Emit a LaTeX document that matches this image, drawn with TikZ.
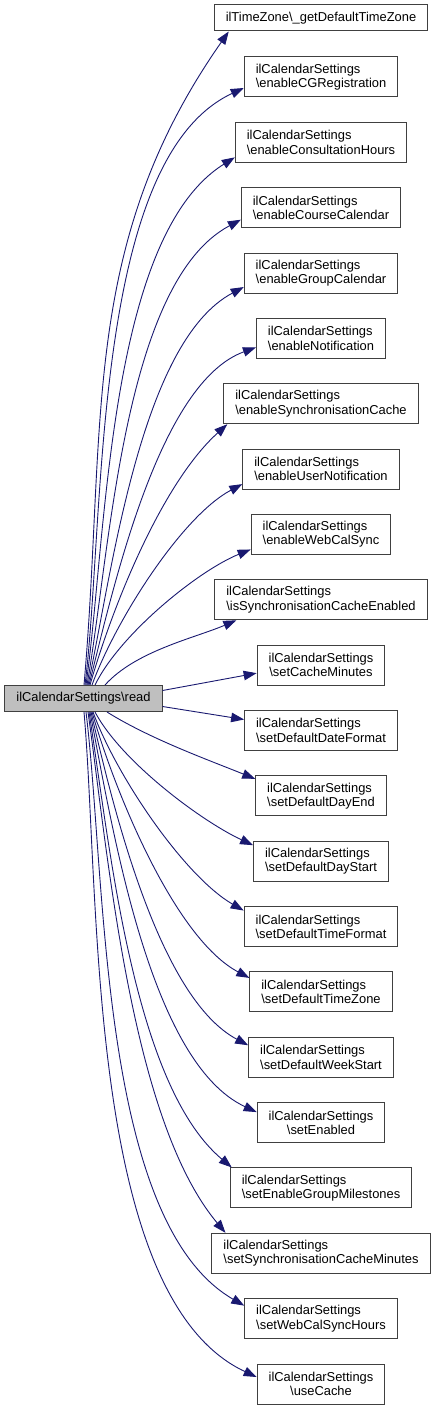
\documentclass[tikz,border=0pt]{standalone}
\usepackage{fontspec}
\setmainfont{Liberation Sans}
\usetikzlibrary{positioning,arrows.meta}
\definecolor{edgeblue}{RGB}{25,25,112}
\definecolor{boxline}{RGB}{64,64,64}
\definecolor{rootfill}{RGB}{191,191,191}

\begin{document}
\begin{tikzpicture}[x=1pt, y=1pt, node distance=24.35pt,
        fn/.style={draw=boxline, line width=1pt, align=left, minimum height=40pt,
            inner xsep=11.5pt, font=\fontsize{12.9}{14.3}\selectfont},
        fnc/.style={fn, align=center},
        fn1/.style={fn, minimum height=26pt},
        call/.style={draw=edgeblue, line width=0.9pt, -{Triangle[length=13pt,width=9.5pt]}}]
    \useasboundingbox (0,0) rectangle (437,-1410);
    % caller
    \node[fn1, fill=rootfill] (read) at (83.5,-698.5) {ilCalendarSettings\textbackslash read};
    % callees
    \node[fn1] (tz) at (321,-18) {ilTimeZone\textbackslash\_getDefaultTimeZone};
    \node[fn, below=25pt of tz] (cg) {ilCalendarSettings\\\textbackslash enableCGRegistration};
    \node[fn, below=of cg] (consult) {ilCalendarSettings\\\textbackslash enableConsultationHours};
    \node[fn, below=of consult] (course) {ilCalendarSettings\\\textbackslash enableCourseCalendar};
    \node[fn, below=of course] (group) {ilCalendarSettings\\\textbackslash enableGroupCalendar};
    \node[fn, below=of group] (notif) {ilCalendarSettings\\\textbackslash enableNotification};
    \node[fn, below=of notif] (synccache) {ilCalendarSettings\\\textbackslash enableSynchronisationCache};
    \node[fn, below=of synccache] (usernotif) {ilCalendarSettings\\\textbackslash enableUserNotification};
    \node[fn, below=of usernotif] (webcal) {ilCalendarSettings\\\textbackslash enableWebCalSync};
    \node[fn, below=of webcal] (issync) {ilCalendarSettings\\\textbackslash isSynchronisationCacheEnabled};
    \node[fnc, below=of issync] (cachemin) {ilCalendarSettings\\\textbackslash setCacheMinutes};
    \node[fn, below=of cachemin] (datefmt) {ilCalendarSettings\\\textbackslash setDefaultDateFormat};
    \node[fn, below=of datefmt] (dayend) {ilCalendarSettings\\\textbackslash setDefaultDayEnd};
    \node[fn, below=of dayend] (daystart) {ilCalendarSettings\\\textbackslash setDefaultDayStart};
    \node[fn, below=of daystart] (timefmt) {ilCalendarSettings\\\textbackslash setDefaultTimeFormat};
    \node[fn, below=of timefmt] (deftz) {ilCalendarSettings\\\textbackslash setDefaultTimeZone};
    \node[fn, below=of deftz] (weekstart) {ilCalendarSettings\\\textbackslash setDefaultWeekStart};
    \node[fnc, below=of weekstart] (enabled) {ilCalendarSettings\\\textbackslash setEnabled};
    \node[fn, below=of enabled] (milestones) {ilCalendarSettings\\\textbackslash setEnableGroupMilestones};
    \node[fn, below=of milestones] (syncmin) {ilCalendarSettings\\\textbackslash setSynchronisationCacheMinutes};
    \node[fn, below=of syncmin] (webcalhrs) {ilCalendarSettings\\\textbackslash setWebCalSyncHours};
    \node[fnc, below=of webcalhrs] (usecache) {ilCalendarSettings\\\textbackslash useCache};
    % calls going up
    \draw[call] ([xshift=0.5pt]read.north) to[out=85, in=235] ([xshift=15pt]tz.south west);
    \draw[call] ([xshift=1.5pt]read.north) to[out=83, in=205, looseness=0.7] ([yshift=-11pt]cg.west);
    \draw[call] ([xshift=2.5pt]read.north) to[out=82, in=212, looseness=0.7] ([yshift=-15pt]consult.west);
    \draw[call] ([xshift=3.5pt]read.north) to[out=80, in=208, looseness=0.7] ([yshift=-12pt]course.west);
    \draw[call] ([xshift=4.5pt]read.north) to[out=78, in=208, looseness=0.7] ([yshift=-14pt]group.west);
    \draw[call] ([xshift=5.5pt]read.north) to[out=76, in=200, looseness=0.7] ([yshift=-9pt]notif.west);
    \draw[call] ([xshift=6.5pt]read.north) to[out=74, in=222, looseness=0.75] ([xshift=4pt]synccache.south west);
    \draw[call] ([xshift=8.5pt]read.north) to[out=70, in=208, looseness=0.7] ([yshift=-15pt]usernotif.west);
    \draw[call] ([xshift=11.5pt]read.north) to[out=64, in=202, looseness=0.7] ([yshift=-15pt]webcal.west);
    \draw[call] ([xshift=21.5pt]read.north) to[out=48, in=203, looseness=0.8] ([xshift=22pt]issync.south west);
    % straight calls
    \draw[call] ([yshift=8pt]read.east) -- ([yshift=-8pt]cachemin.west);
    \draw[call] ([yshift=-8pt]read.east) -- ([yshift=11pt]datefmt.west);
    % calls going down
    \draw[call] ([xshift=23.5pt]read.south) to[out=-32, in=158, looseness=0.8] ([yshift=17pt]dayend.west);
    \draw[call] ([xshift=11.5pt]read.south) to[out=-62, in=155, looseness=0.7] ([yshift=16pt]daystart.west);
    \draw[call] ([xshift=9.5pt]read.south) to[out=-70, in=150, looseness=0.7] ([yshift=16pt]timefmt.west);
    \draw[call] ([xshift=8.5pt]read.south) to[out=-74, in=152, looseness=0.7] ([yshift=14pt]deftz.west);
    \draw[call] ([xshift=7.5pt]read.south) to[out=-77, in=152, looseness=0.7] ([yshift=12pt]weekstart.west);
    \draw[call] ([xshift=6.5pt]read.south) to[out=-79, in=155, looseness=0.7] ([yshift=10.5pt]enabled.west);
    \draw[call] ([xshift=5.5pt]read.south) to[out=-81, in=140, looseness=0.7] ([xshift=2pt]milestones.north west);
    \draw[call] ([xshift=4.5pt]read.south) to[out=-82, in=130, looseness=0.7] ([xshift=14pt]syncmin.north west);
    \draw[call] ([xshift=2.5pt]read.south) to[out=-83, in=150, looseness=0.7] ([yshift=13pt]webcalhrs.west);
    \draw[call] ([xshift=0.5pt]read.south) to[out=-85, in=155, looseness=0.7] ([yshift=7pt]usecache.west);
\end{tikzpicture}
\end{document}
